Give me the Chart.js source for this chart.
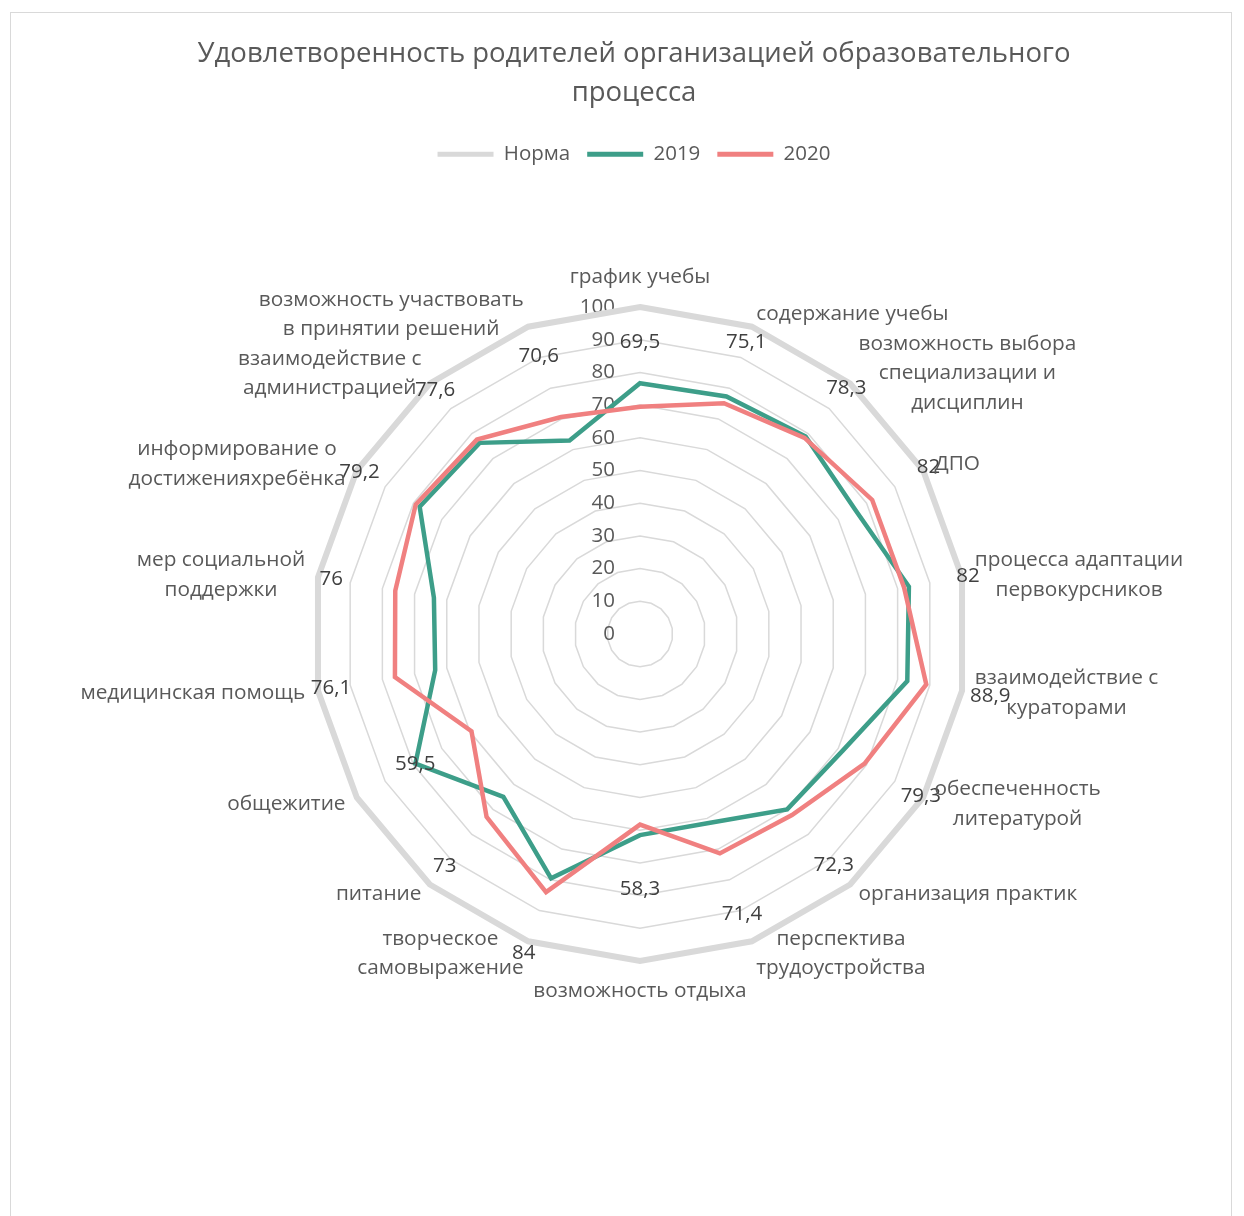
<!DOCTYPE html>
<html lang="ru">
<head>
<meta charset="utf-8">
<title>Удовлетворенность родителей</title>
<script src="https://cdn.jsdelivr.net/npm/chart.js@4.4.0/dist/chart.umd.min.js"></script>
<style>
  html, body { margin: 0; padding: 0; background: #fff; }
  body { width: 1244px; height: 1216px; position: relative; overflow: hidden; }
  #frame { position: absolute; left: 10px; top: 12px; width: 1222px; height: 1240px; border: 1px solid #d9d9d9; box-sizing: border-box; }
  #chart { position: absolute; left: 0; top: 0; }
</style>
</head>
<body>
<div id="frame"></div>
<canvas id="chart" width="1244" height="1216"></canvas>
<script>
const categories = [
  "график учебы",
  "содержание учебы",
  ["возможность выбора", "специализации и", "дисциплин"],
  "ДПО",
  ["процесса адаптации", "первокурсников"],
  ["взаимодействие с", "кураторами"],
  ["обеспеченность", "литературой"],
  "организация практик",
  ["перспектива", "трудоустройства"],
  "возможность отдыха",
  ["творческое", "самовыражение"],
  "питание",
  "общежитие",
  "медицинская помощь",
  ["мер социальной", "поддержки"],
  ["информирование о", "достиженияхребёнка"],
  ["взаимодействие с", "администрацией"],
  ["возможность участвовать", "в принятии решений"],
];

const norma = [100, 100, 100, 100, 100, 100, 100, 100, 100, 100, 100, 100, 100, 100, 100, 100, 100, 100];
const values2019 = [76.7, 77.3, 78.8, 76, 83.5, 83, 71.5, 70, 61.5, 61.5, 79.5, 65, 79.3, 63.6, 64, 77.8, 76.3, 63];
const values2020 = [69.5, 75.1, 78.3, 82, 82, 88.9, 79.3, 72.3, 71.4, 58.3, 84, 73, 59.5, 76.1, 76, 79.2, 77.6, 70.6];

const tickValues = [0, 10, 20, 30, 40, 50, 60, 70, 80, 90, 100];

const FONT = "'Open Sans', 'DejaVu Sans', sans-serif";
const TEXT = "#595959";

// подписи осей (категории) в стиле Excel: блок по центру строк
const categoryLabels = {
  id: "categoryLabels",
  afterDraw(chart) {
    const scale = chart.scales.r;
    const ctx = chart.ctx;
    const lineH = 29.5;
    ctx.save();
    ctx.font = "20.8px " + FONT;
    ctx.fillStyle = TEXT;
    ctx.textAlign = "center";
    ctx.textBaseline = "middle";
    categories.forEach((label, i) => {
      const lines = Array.isArray(label) ? label : [label];
      const angle = Math.round((360 / categories.length) * i);
      const p = scale.getPointPosition(i, scale.drawingArea + 13);
      const w = Math.max(...lines.map((l) => ctx.measureText(l).width));
      const h = lines.length * lineH;
      let cx = p.x;
      let top = p.y - h / 2;
      if (angle === 0) {
        top = p.y - h - 2;
      } else if (angle === 180) {
        top = p.y + 2;
      } else if (angle < 180) {
        cx = p.x + w / 2;
      } else {
        cx = p.x - w / 2;
      }
      lines.forEach((l, k) => {
        ctx.fillText(l, cx, top + lineH * k + lineH / 2);
      });
    });
    ctx.restore();
  },
};

const tickLabels = {
  id: "tickLabels",
  beforeDatasetsDraw(chart) {
    const scale = chart.scales.r;
    const ctx = chart.ctx;
    ctx.save();
    ctx.font = "20.5px " + FONT;
    ctx.fillStyle = TEXT;
    ctx.textAlign = "right";
    ctx.textBaseline = "middle";
    tickValues.forEach((v) => {
      const d = scale.getDistanceFromCenterForValue(v);
      ctx.fillText(String(v), scale.xCenter - 25, scale.yCenter - d);
    });
    ctx.restore();
  },
};

const valueLabels = {
  id: "valueLabels",
  afterDatasetsDraw(chart) {
    const scale = chart.scales.r;
    const ctx = chart.ctx;
    ctx.save();
    ctx.font = "20.5px " + FONT;
    ctx.fillStyle = "#404040";
    ctx.textAlign = "center";
    ctx.textBaseline = "middle";
    values2020.forEach((v, i) => {
      const p = scale.getPointPosition(i, scale.getDistanceFromCenterForValue(v) + 65);
      ctx.fillText(v.toLocaleString("ru-RU"), p.x, p.y);
    });
    ctx.restore();
  },
};

let chart;

const showChart = () => {
  const ctx = document.getElementById("chart").getContext("2d");
  if (chart) {
    chart.destroy();
  }

  const data = {
    labels: categories,
    datasets: [
      {
        label: "Норма",
        data: norma,
        borderColor: "#d9d9d9",
        backgroundColor: "#d9d9d9",
        borderWidth: 6,
        order: 3,
      },
      {
        label: "2019",
        data: values2019,
        borderColor: "#3d9e89",
        backgroundColor: "#3d9e89",
        borderWidth: 4.5,
        order: 2,
      },
      {
        label: "2020",
        data: values2020,
        borderColor: "#f08080",
        backgroundColor: "#f08080",
        borderWidth: 4.5,
        order: 1,
      },
    ],
  };

  const options = {
    responsive: false,
    animation: false,
    devicePixelRatio: 1,
    layout: { padding: { left: 24, right: 0, top: 0, bottom: 0 } },
    elements: {
      line: { tension: 0, fill: false, borderJoinStyle: "miter" },
      point: { radius: 0, hoverRadius: 0 },
    },
    plugins: {
      tooltip: { enabled: false },
      title: {
        display: true,
        text: ["Удовлетворенность родителей организацией образовательного", "процесса"],
        color: TEXT,
        font: { family: FONT, size: 27.5, weight: "normal", lineHeight: 1.42 },
        padding: { top: 35, bottom: 14 },
      },
      legend: {
        position: "top",
        labels: {
          color: TEXT,
          font: { family: FONT, size: 20.5 },
          boxWidth: 56,
          boxHeight: 5,
          padding: 17,
          sort: (a, b) => a.datasetIndex - b.datasetIndex,
          generateLabels: (c) =>
            Chart.defaults.plugins.legend.labels.generateLabels(c).map((item) => ({
              ...item,
              fillStyle: item.strokeStyle,
              lineWidth: 0,
            })),
        },
      },
    },
    scales: {
      r: {
        min: 0,
        max: 100,
        afterBuildTicks: (s) => {
          s.ticks = tickValues.map((v) => ({ value: v }));
        },
        afterFit: (s) => {
          s.xCenter = 640;
          s.yCenter = 634;
          s.drawingArea = 327;
        },
        ticks: { display: false },
        pointLabels: { display: false },
        angleLines: { display: false },
        grid: { circular: false, color: "#d9d9d9", lineWidth: 1.5 },
      },
    },
  };

  chart = new Chart(ctx, {
    type: "radar",
    data: data,
    options: options,
    plugins: [tickLabels, valueLabels, categoryLabels],
  });
};

showChart();
</script>
</body>
</html>
